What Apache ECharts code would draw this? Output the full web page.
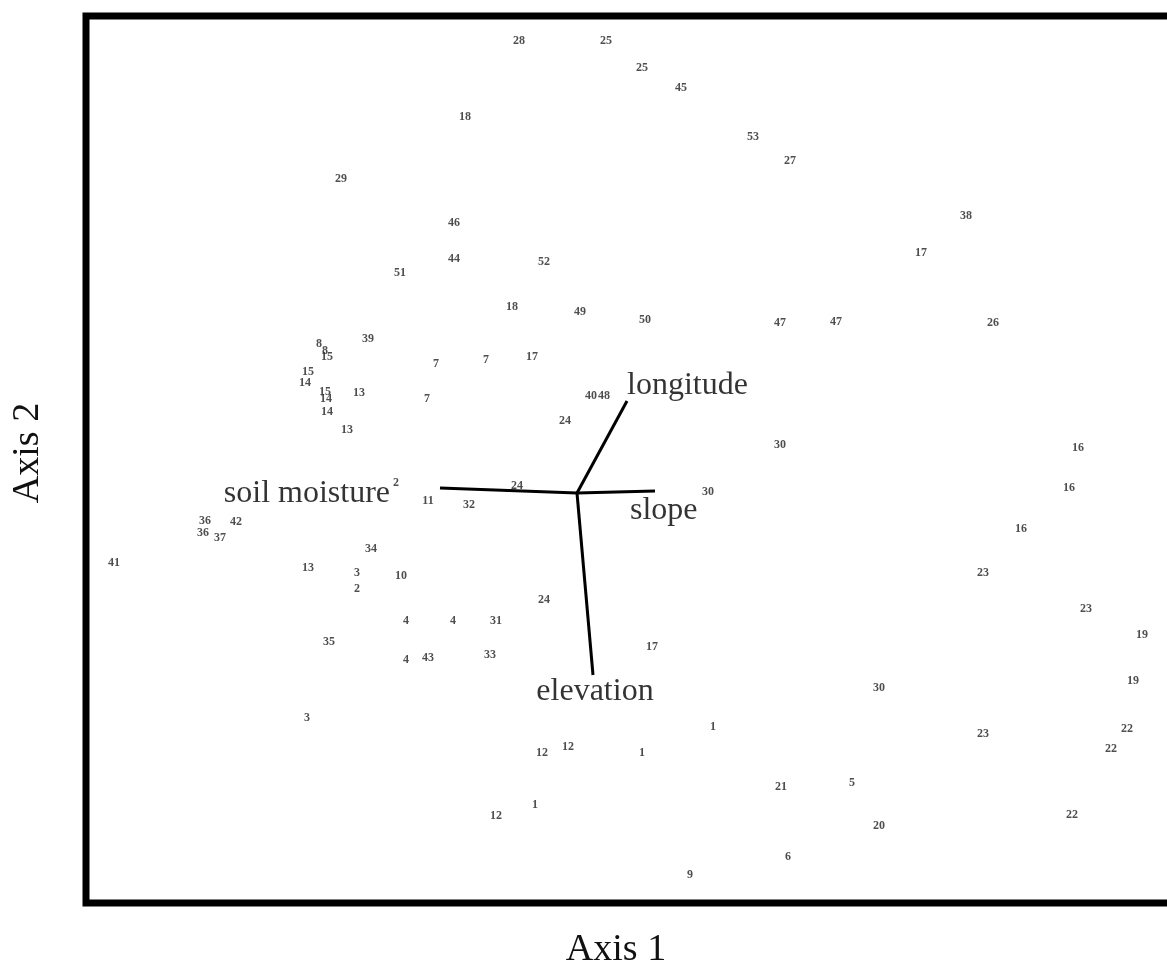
<!DOCTYPE html>
<html>
<head>
<meta charset="utf-8">
<script src="https://cdn.jsdelivr.net/npm/echarts@6/dist/echarts.min.js"></script>
<style>html,body{margin:0;padding:0;background:#fff;}#c{width:1167px;height:978px;}</style>
</head>
<body>
<div id="c"></div>
<script>
// Site scores (ordination axis 1 / axis 2), labelled by site number
const siteIds = ['28','25','25','45','18','53','27','29','38','46','17','44','52','51','18','49','50','47','47','26',
  '39','8','8','15','15','14','15','14','13','14','13','7','7','17','7','40','48','24','30','16',
  '24','2','11','32','30','16','16','36','42','36','37','41','34','13','3','10','2','23','24','23',
  '4','4','31','19','35','17','33','4','43','19','30','3','1','22','23','22','12','12','1','21',
  '5','1','12','20','22','6','9'];
const axis1 = [-0.58,0.29,0.65,1.04,-1.12,1.76,2.13,-2.36,3.89,-1.23,3.44,-1.23,-0.33,-1.77,-0.65,0.03,0.68,2.03,2.59,4.16,
  -2.09,-2.58,-2.52,-2.50,-2.69,-2.72,-2.52,-2.51,-2.18,-2.50,-2.30,-1.41,-0.91,-0.45,-1.50,0.14,0.27,-0.12,2.03,5.01,
  -0.60,-1.81,-1.49,-1.08,1.31,4.92,4.44,-3.72,-3.41,-3.74,-3.57,-4.63,-2.06,-2.69,-2.20,-1.76,-2.20,4.06,-0.33,5.09,
  -1.71,-1.24,-0.81,5.65,-2.48,0.75,-0.87,-1.71,-1.49,5.56,3.02,-2.70,1.36,5.50,4.06,5.34,-0.35,-0.09,0.65,2.04,
  2.75,-0.42,-0.81,3.02,4.95,2.11,1.13];
const axis2 = [4.52,4.52,4.25,4.05,3.76,3.56,3.32,3.14,2.77,2.70,2.40,2.34,2.31,2.20,1.86,1.81,1.73,1.70,1.71,1.70,
  1.54,1.49,1.42,1.36,1.21,1.10,1.01,0.94,1.00,0.81,0.63,1.29,1.33,1.36,0.94,0.97,0.97,0.72,0.48,0.45,
  0.07,0.10,-0.08,-0.12,0.01,0.05,-0.36,-0.28,-0.29,-0.40,-0.45,-0.70,-0.56,-0.75,-0.80,-0.83,-0.96,-0.80,-1.07,-1.16,
  -1.28,-1.28,-1.28,-1.42,-1.49,-1.54,-1.62,-1.67,-1.65,-1.88,-1.95,-2.25,-2.34,-2.36,-2.41,-2.56,-2.60,-2.54,-2.60,-2.94,
  -2.90,-3.12,-3.23,-3.33,-3.22,-3.64,-3.82];

// Environmental vectors (biplot), drawn from the origin
const vecNames = ['longitude','slope','elevation','soil moisture'];
const vecAxis1 = [0.50, 0.78, 0.16, -1.37];
const vecAxis2 = [0.92, 0.02, -1.82, 0.05];

// Axis extents and titles
const axis1Range = [-4.91, 6.10];
const axis2Range = [-4.10, 4.77];
const axisTitles = ['Axis 1', 'Axis 2'];

// label placement (style only)
const vecLabelStyle = [
  {align:'left', offset:[0,-15]},
  {align:'left', offset:[-25,20]},
  {align:'center', offset:[2,17]},
  {align:'right', offset:[-50,6]}
];

const serif = "'Liberation Serif', 'DejaVu Serif', serif";

const series = [];
vecNames.forEach((n, i) => {
  series.push({
    type: 'line', data: [[0, 0], [vecAxis1[i], vecAxis2[i]]],
    symbol: 'none', lineStyle: {color: '#000', width: 3}, silent: true, z: 3
  });
});
series.push({
  type: 'scatter', symbolSize: 1, itemStyle: {color: 'rgba(0,0,0,0)'}, z: 4,
  data: vecNames.map((n, i) => ({
    value: [vecAxis1[i], vecAxis2[i]], name: n,
    label: {show: true, formatter: n, position: 'inside', align: vecLabelStyle[i].align,
      verticalAlign: 'middle', offset: vecLabelStyle[i].offset,
      fontFamily: serif, fontSize: 32, color: '#000'}
  }))
});
series.push({
  type: 'scatter', symbolSize: 1, itemStyle: {color: 'rgba(0,0,0,0)'}, z: 5,
  data: siteIds.map((s, i) => ({value: [axis1[i], axis2[i]], name: s})),
  label: {show: true, formatter: p => p.name, position: 'inside', align: 'center', verticalAlign: 'middle',
    fontFamily: serif, fontSize: 12, fontWeight: 'bold', color: '#222'}
});

const chart = echarts.init(document.getElementById('c'), null, {renderer: 'canvas'});
chart.setOption({
  animation: false,
  backgroundColor: '#fff',
  grid: {left: 86, top: 16, width: 1101, height: 887, outerBoundsMode: 'none', containLabel: false,
    show: true, borderColor: '#000', borderWidth: 7, backgroundColor: 'transparent'},
  xAxis: {type: 'value', min: axis1Range[0], max: axis1Range[1], axisLine: {show: false}, axisTick: {show: false},
    axisLabel: {show: false}, splitLine: {show: false}},
  yAxis: {type: 'value', min: axis2Range[0], max: axis2Range[1], axisLine: {show: false}, axisTick: {show: false},
    axisLabel: {show: false}, splitLine: {show: false}},
  graphic: [
    {type: 'text', x: 616, y: 950, style: {text: axisTitles[0], font: '38px ' + serif, fill: '#111', align: 'center', verticalAlign: 'middle'}},
    {type: 'text', x: 28, y: 453, rotation: Math.PI / 2, style: {text: axisTitles[1], font: '38px ' + serif, fill: '#111', align: 'center', verticalAlign: 'middle'}}
  ],
  series: series
});
</script>
</body>
</html>
